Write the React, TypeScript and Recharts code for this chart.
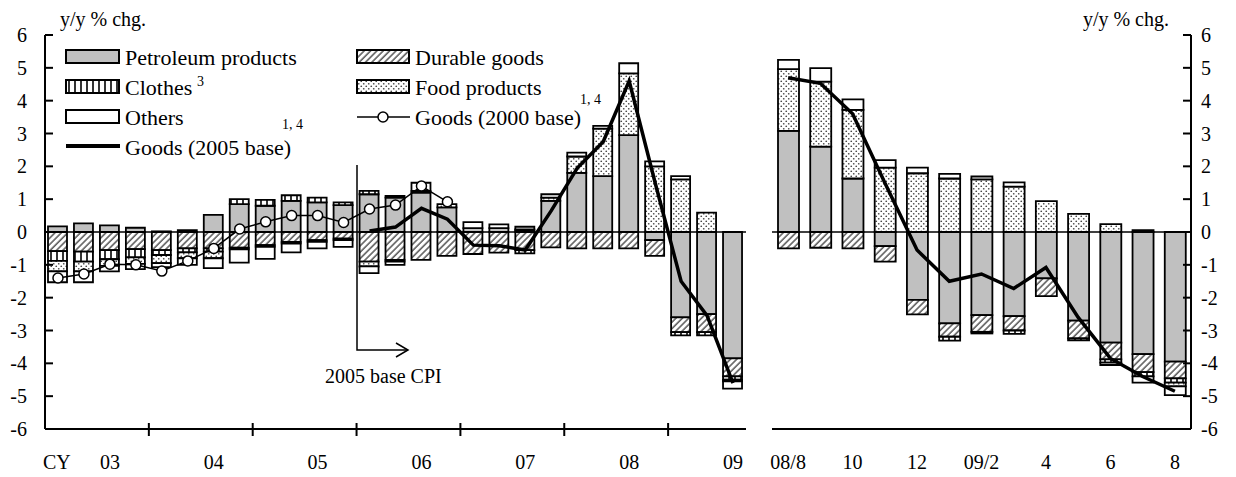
import React from 'react';
import { ComposedChart, Bar, Line, XAxis, YAxis, ReferenceLine } from 'recharts';

// ---------- data ----------
const quarters = ['03Q1','03Q2','03Q3','03Q4','04Q1','04Q2','04Q3','04Q4','05Q1','05Q2','05Q3','05Q4','06Q1','06Q2','06Q3','06Q4','07Q1','07Q2','07Q3','07Q4','08Q1','08Q2','08Q3','08Q4','09Q1','09Q2','09Q3'];
const quarterTickLabels = ['', '', '03', '', '', '', '04', '', '', '', '05', '', '', '', '06', '', '', '', '07', '', '', '', '08', '', '', '', '09'];
const qPetroleum = [0.17,0.26,0.2,0.13,0.02,0.06,0.52,0.85,0.8,0.95,0.9,0.82,1.15,1.05,1.2,0.75,0.12,0.12,0.05,0.95,1.8,1.7,2.95,-0.25,-2.6,-2.5,-3.85];
const qDurable = [-0.58,-0.6,-0.55,-0.52,-0.55,-0.5,-0.5,-0.48,-0.4,-0.3,-0.25,-0.2,-0.9,-0.85,-0.85,-0.73,-0.67,-0.63,-0.55,-0.47,-0.5,-0.5,-0.5,-0.48,-0.45,-0.55,-0.55];
const qClothes = [-0.3,-0.3,-0.28,-0.25,-0.15,-0.12,-0.1,0.15,0.18,0.17,0.15,0.08,0.1,0.05,0.05,0,0,0,-0.1,0,0,0,0,0,-0.1,-0.1,-0.1];
const qFood = [-0.32,-0.3,-0.2,-0.2,-0.25,-0.18,-0.2,-0.05,-0.05,-0.05,-0.05,-0.05,-0.15,-0.05,0,0.1,0,0,0.03,0.1,0.5,1.45,1.88,2.0,1.6,0.59,-0.05];
const qOthers = [-0.33,-0.33,-0.17,-0.16,-0.12,-0.2,-0.3,-0.4,-0.37,-0.27,-0.2,-0.2,-0.2,-0.1,0.25,0,0.18,0.11,0.08,0.1,0.12,0.08,0.31,0.15,0.1,0,-0.22];
const qGoods2000 = [-1.4,-1.28,-0.98,-1.0,-1.19,-0.88,-0.5,0.09,0.31,0.5,0.5,0.29,0.7,0.82,1.4,0.92,null,null,null,null,null,null,null,null,null,null,null];
const qGoods2005 = [null,null,null,null,null,null,null,null,null,null,null,null,0.03,0.15,0.72,0.39,-0.4,-0.42,-0.55,0.65,1.95,2.75,4.6,1.5,-1.5,-2.55,-4.6];

const months = ['08/8','08/9','08/10','08/11','08/12','09/1','09/2','09/3','09/4','09/5','09/6','09/7','09/8'];
const monthTickLabels = ['08/8','','10','','12','','09/2','','4','','6','','8'];
const mPetroleum = [3.08,2.6,1.63,-0.43,-2.07,-2.78,-2.53,-2.56,-1.41,-2.7,-3.37,-3.72,-3.95];
const mDurable = [-0.5,-0.48,-0.5,-0.47,-0.44,-0.41,-0.51,-0.44,-0.54,-0.54,-0.51,-0.55,-0.51];
const mClothes = [0,0,0,0,0,-0.12,-0.05,-0.1,0,-0.06,-0.1,-0.13,-0.13];
const mFood = [1.88,1.98,2.09,1.96,1.79,1.63,1.6,1.38,0.94,0.55,0.24,0.06,-0.11];
const mOthers = [0.28,0.41,0.32,0.23,0.17,0.14,0.09,0.13,0,0,-0.07,-0.19,-0.27];
const mGoods2005 = [4.7,4.53,3.6,1.5,-0.55,-1.5,-1.28,-1.72,-1.08,-2.6,-3.85,-4.4,-4.85];

const yTicks = [-6,-5,-4,-3,-2,-1,0,1,2,3,4,5,6];

const qData = quarters.map((q, i) => ({
  q, petro: qPetroleum[i], durable: qDurable[i], clothes: qClothes[i], food: qFood[i], others: qOthers[i],
  g2000: qGoods2000[i], g2005: qGoods2005[i],
}));
const mData = months.map((m, i) => ({
  m, petro: mPetroleum[i], durable: mDurable[i], clothes: mClothes[i], food: mFood[i], others: mOthers[i],
  g2005: mGoods2005[i],
}));

// ---------- layout ----------
const FONT = '"Liberation Serif", "Times New Roman", serif';
const L_W = 760, L_MR = 14, L_YW = 45;
const L_PLOT_W = L_W - L_MR - L_YW;
const R_W = 476, R_ML = 12, R_YW = 45;
const H = 477, TOP = 35, XH = 48;

const FILL_PETRO = '#c0c0c0';

function QuarterTick(props: any) {
  const { x, y, payload } = props;
  const idx = quarters.indexOf(payload.value);
  const band = L_PLOT_W / quarters.length;
  const label = quarterTickLabels[idx];
  const isQ4 = quarters[idx] && quarters[idx].endsWith('Q4');
  return (
    <g>
      {label ? (
        <text x={x} y={y + 40} textAnchor="middle" fontSize={20} fontFamily={FONT} fill="#000">{label}</text>
      ) : null}
      {isQ4 ? <line x1={x + band / 2} x2={x + band / 2} y1={y - 6} y2={y + 7} stroke="#000" strokeWidth={2} /> : null}
    </g>
  );
}

function MonthTick(props: any) {
  const { x, y, payload } = props;
  const idx = months.indexOf(payload.value);
  const label = monthTickLabels[idx];
  return label ? (
    <text x={x} y={y + 40} textAnchor="middle" fontSize={20} fontFamily={FONT} fill="#000">{label}</text>
  ) : <g />;
}

function LeftYTick(props: any) {
  const { x, y, payload } = props;
  return (
    <g>
      <line x1={x} x2={x + 8} y1={y} y2={y} stroke="#000" strokeWidth={2} />
      <text x={x - 18} y={y} dy="0.35em" textAnchor="end" fontSize={20} fontFamily={FONT} fill="#000">{payload.value}</text>
    </g>
  );
}

function RightYTick(props: any) {
  const { x, y, payload } = props;
  return (
    <g>
      <line x1={x - 8} x2={x} y1={y} y2={y} stroke="#000" strokeWidth={2} />
      <text x={x + 10} y={y} dy="0.35em" textAnchor="start" fontSize={20} fontFamily={FONT} fill="#000">{payload.value}</text>
    </g>
  );
}

const barStroke = { stroke: '#000', strokeWidth: 1.8 };

export default function App() {
  const axisLine = { stroke: '#000', strokeWidth: 2 };
  const bars = (size: number) => [
    <Bar key="petro" dataKey="petro" stackId="s" xAxisId="b" yAxisId="l" fill={FILL_PETRO} {...barStroke} barSize={size} isAnimationActive={false} />,
    <Bar key="durable" dataKey="durable" stackId="s" xAxisId="b" yAxisId="l" fill="url(#patHatch)" {...barStroke} barSize={size} isAnimationActive={false} />,
    <Bar key="clothes" dataKey="clothes" stackId="s" xAxisId="b" yAxisId="l" fill="url(#patVert)" {...barStroke} barSize={size} isAnimationActive={false} />,
    <Bar key="food" dataKey="food" stackId="s" xAxisId="b" yAxisId="l" fill="url(#patDots)" {...barStroke} barSize={size} isAnimationActive={false} />,
    <Bar key="others" dataKey="others" stackId="s" xAxisId="b" yAxisId="l" fill="#fff" {...barStroke} barSize={size} isAnimationActive={false} />,
  ];

  return (
    <div style={{ position: 'absolute', left: 0, top: 0, width: 1236, height: H, background: '#fff', fontFamily: FONT }}>
      <svg width={0} height={0} style={{ position: 'absolute' }}>
        <defs>
          <pattern id="patHatch" patternUnits="userSpaceOnUse" width={4.5} height={4.5} patternTransform="rotate(45)">
            <rect width={4.5} height={4.5} fill="#fff" />
            <line x1={1} y1={0} x2={1} y2={4.5} stroke="#555" strokeWidth={1.5} />
          </pattern>
          <pattern id="patVert" patternUnits="userSpaceOnUse" width={6} height={6}>
            <rect width={6} height={6} fill="#fff" />
            <line x1={3} y1={0} x2={3} y2={6} stroke="#000" strokeWidth={1.6} />
          </pattern>
          <pattern id="patDots" patternUnits="userSpaceOnUse" width={5} height={5}>
            <rect width={5} height={5} fill="#fff" />
            <circle cx={1.25} cy={1.25} r={0.85} fill="#444" />
            <circle cx={3.75} cy={3.75} r={0.85} fill="#444" />
          </pattern>
        </defs>
      </svg>

      <div style={{ position: 'absolute', left: 0, top: 0 }}>
        <ComposedChart width={L_W} height={H} data={qData} stackOffset="sign" margin={{ top: TOP, right: L_MR, bottom: 0, left: 0 }}>
          <XAxis xAxisId="b" dataKey="q" height={XH} interval={0} tickSize={0} tickMargin={0} tickLine={false} axisLine={axisLine} tick={<QuarterTick />} />
          <XAxis xAxisId="t" dataKey="q" orientation="top" height={0} tick={false} tickLine={false} axisLine={axisLine} />
          <YAxis yAxisId="l" domain={[-6, 6]} ticks={yTicks} width={L_YW} interval={0} tickSize={0} tickMargin={0} tickLine={false} axisLine={axisLine} tick={<LeftYTick />} />
          <YAxis yAxisId="r" orientation="right" domain={[-6, 6]} width={0} tick={false} tickLine={false} axisLine={axisLine} />
          {bars(19)}
          <ReferenceLine xAxisId="b" yAxisId="l" y={0} stroke="#000" strokeWidth={1.5} />
          <Line xAxisId="b" yAxisId="l" dataKey="g2005" stroke="#000" strokeWidth={3.5} dot={false} isAnimationActive={false} />
          <Line xAxisId="b" yAxisId="l" dataKey="g2000" stroke="#000" strokeWidth={1.5} dot={{ r: 5, fill: '#fff', stroke: '#000', strokeWidth: 1.5 }} isAnimationActive={false} />
        </ComposedChart>
      </div>

      <div style={{ position: 'absolute', left: L_W, top: 0 }}>
        <ComposedChart width={R_W} height={H} data={mData} stackOffset="sign" margin={{ top: TOP, right: 0, bottom: 0, left: R_ML }}>
          <XAxis xAxisId="b" dataKey="m" height={XH} interval={0} tickSize={0} tickMargin={0} tickLine={false} axisLine={axisLine} tick={<MonthTick />} />
          <XAxis xAxisId="t" dataKey="m" orientation="top" height={0} tick={false} tickLine={false} axisLine={axisLine} />
          <YAxis yAxisId="f" orientation="left" domain={[-6, 6]} width={0} tick={false} tickLine={false} axisLine={axisLine} />
          <YAxis yAxisId="l" orientation="right" domain={[-6, 6]} ticks={yTicks} width={R_YW} interval={0} tickSize={0} tickMargin={0} tickLine={false} axisLine={axisLine} tick={<RightYTick />} />
          {bars(21)}
          <ReferenceLine xAxisId="b" yAxisId="l" y={0} stroke="#000" strokeWidth={1.5} />
          <Line xAxisId="b" yAxisId="l" dataKey="g2005" stroke="#000" strokeWidth={3.5} dot={false} isAnimationActive={false} />
        </ComposedChart>
      </div>

      <svg width={1236} height={H} style={{ position: 'absolute', left: 0, top: 0, pointerEvents: 'none' }} fontFamily={FONT}>
        <text x={60} y={26} fontSize={20} fill="#000">y/y % chg.</text>
        <text x={1169} y={26} fontSize={20} fill="#000" textAnchor="end">y/y % chg.</text>
        <text x={43} y={469} fontSize={20} fill="#000">CY</text>

        {/* legend left column */}
        <rect x={66} y={50} width={53} height={13} fill={FILL_PETRO} stroke="#000" strokeWidth={2} />
        <text x={125} y={65} fontSize={22} fill="#000">Petroleum products</text>
        <rect x={66} y={80} width={53} height={13} fill="url(#patVert)" stroke="#000" strokeWidth={2} />
        <text x={125} y={95} fontSize={22} fill="#000">Clothes</text>
        <text x={197} y={86} fontSize={14} fill="#000">3</text>
        <rect x={66} y={110} width={53} height={13} fill="#fff" stroke="#000" strokeWidth={2} />
        <text x={125} y={125} fontSize={22} fill="#000">Others</text>
        <text x={282} y={129} fontSize={14} fill="#000">1, 4</text>
        <line x1={66} x2={120} y1={146} y2={146} stroke="#000" strokeWidth={4} />
        <text x={125} y={155} fontSize={22} fill="#000">Goods (2005 base)</text>

        {/* legend right column */}
        <rect x={357} y={50} width={52} height={13} fill="url(#patHatch)" stroke="#000" strokeWidth={2} />
        <text x={415} y={65} fontSize={22} fill="#000">Durable goods</text>
        <rect x={357} y={80} width={52} height={13} fill="url(#patDots)" stroke="#000" strokeWidth={2} />
        <text x={415} y={95} fontSize={22} fill="#000">Food products</text>
        <line x1={357} x2={410} y1={117} y2={117} stroke="#000" strokeWidth={1.5} />
        <circle cx={383} cy={117} r={5} fill="#fff" stroke="#000" strokeWidth={1.5} />
        <text x={415} y={125} fontSize={22} fill="#000">Goods (2000 base)</text>
        <text x={580} y={104} fontSize={14} fill="#000">1, 4</text>

        {/* 2005 base CPI annotation */}
        <polyline points="357,165 357,350 408,350" fill="none" stroke="#000" strokeWidth={1.5} />
        <polyline points="396,343 408,350 396,357" fill="none" stroke="#000" strokeWidth={1.5} />
        <text x={325} y={383} fontSize={20} fill="#000">2005 base CPI</text>
      </svg>
    </div>
  );
}
